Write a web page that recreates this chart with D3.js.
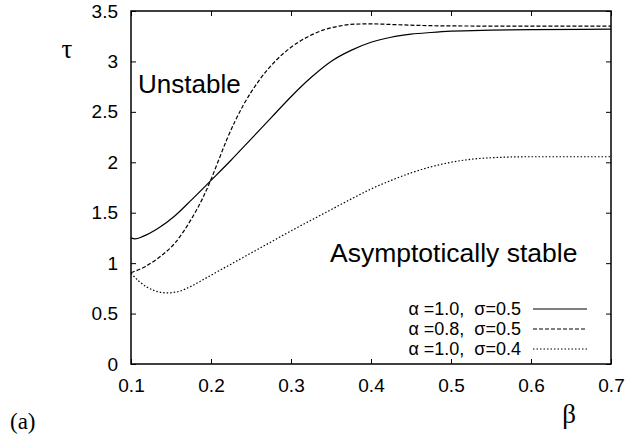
<!DOCTYPE html>
<html>
<head>
<meta charset="utf-8">
<script src="https://cdn.jsdelivr.net/npm/d3@7"></script>
<style>
  body { margin: 0; background: #fff; }
  svg { display: block; }
  .tick text { font-family: "Liberation Sans", Arial, sans-serif; font-size: 19px; fill: #000; }
</style>
</head>
<body>
<div id="chart"></div>
<script>
// values: beta (x) and tau (y)
const betaA = [0.100, 0.105, 0.115, 0.134, 0.155, 0.176, 0.200, 0.225, 0.250, 0.275, 0.300, 0.325, 0.350, 0.375, 0.400, 0.425, 0.450, 0.475, 0.500, 0.550, 0.600, 0.700];
const tauA  = [1.250, 1.240, 1.265, 1.345, 1.470, 1.630, 1.820, 2.020, 2.230, 2.440, 2.650, 2.840, 3.000, 3.110, 3.190, 3.240, 3.270, 3.287, 3.300, 3.310, 3.315, 3.320];

const betaB = [0.100, 0.1175, 0.134, 0.155, 0.176, 0.190, 0.200, 0.210, 0.220, 0.240, 0.260, 0.280, 0.300, 0.320, 0.340, 0.360, 0.380, 0.400, 0.430, 0.460, 0.500, 0.600, 0.700];
const tauB  = [0.905, 0.965, 1.050, 1.200, 1.445, 1.650, 1.830, 2.030, 2.230, 2.560, 2.810, 3.000, 3.140, 3.240, 3.310, 3.350, 3.370, 3.372, 3.365, 3.357, 3.352, 3.350, 3.350];

const betaC = [0.100, 0.110, 0.120, 0.130, 0.145, 0.160, 0.175, 0.190, 0.200, 0.225, 0.250, 0.275, 0.300, 0.325, 0.350, 0.375, 0.400, 0.425, 0.450, 0.475, 0.500, 0.525, 0.550, 0.600, 0.700];
const tauC  = [0.900, 0.820, 0.762, 0.725, 0.705, 0.720, 0.770, 0.835, 0.880, 0.990, 1.100, 1.210, 1.320, 1.425, 1.530, 1.635, 1.735, 1.820, 1.895, 1.955, 2.000, 2.030, 2.045, 2.055, 2.055];

const seriesNames = ["α =1.0,  σ=0.5", "α =0.8,  σ=0.5", "α =1.0,  σ=0.4"];
const xTicks = [0.1, 0.2, 0.3, 0.4, 0.5, 0.6, 0.7];
const xTickLabels = ["0.1", "0.2", "0.3", "0.4", "0.5", "0.6", "0.7"];
const yTicks = [0, 0.5, 1, 1.5, 2, 2.5, 3, 3.5];
const yTickLabels = ["0", "0.5", "1", "1.5", "2", "2.5", "3", "3.5"];

const W = 629, H = 435;
const L = 131, R = 611, T = 11, B = 364;

const svg = d3.select("#chart").append("svg")
    .attr("width", W)
    .attr("height", H);

const x = d3.scaleLinear().domain([0.1, 0.7]).range([L, R]);
const y = d3.scaleLinear().domain([0, 3.5]).range([B, T]);

// axes, ticks pointing inwards on all four sides
svg.append("g")
    .attr("transform", `translate(0,${B})`)
    .call(d3.axisBottom(x).tickValues(xTicks).tickSizeInner(-5).tickSizeOuter(0)
        .tickPadding(15).tickFormat((d, i) => xTickLabels[i]));

svg.append("g")
    .attr("transform", `translate(${L},0)`)
    .call(d3.axisLeft(y).tickValues(yTicks).tickSizeInner(-5).tickSizeOuter(0)
        .tickPadding(13).tickFormat((d, i) => yTickLabels[i]));

svg.append("g")
    .attr("transform", `translate(0,${T})`)
    .call(d3.axisTop(x).tickValues(xTicks).tickSizeInner(-5).tickSizeOuter(0).tickFormat(""));

svg.append("g")
    .attr("transform", `translate(${R},0)`)
    .call(d3.axisRight(y).tickValues(yTicks).tickSizeInner(-5).tickSizeOuter(0).tickFormat(""));

svg.selectAll(".domain").remove();
svg.selectAll(".tick line").attr("stroke", "#000").attr("stroke-width", 1);

svg.append("rect")
    .attr("x", L).attr("y", T)
    .attr("width", R - L).attr("height", B - T)
    .attr("fill", "none")
    .attr("stroke", "#000")
    .attr("stroke-width", 1.5);

// curves
const line = d3.line()
    .x(d => x(d[0]))
    .y(d => y(d[1]))
    .curve(d3.curveMonotoneX);

const series = [
    { pts: d3.zip(betaA, tauA), dash: null },
    { pts: d3.zip(betaB, tauB), dash: "4,2" },
    { pts: d3.zip(betaC, tauC), dash: "1.5,2" }
];

svg.selectAll(".curve")
    .data(series)
    .enter()
    .append("path")
    .attr("class", "curve")
    .attr("d", d => line(d.pts))
    .attr("fill", "none")
    .attr("stroke", "#000")
    .attr("stroke-width", 1.2)
    .attr("stroke-dasharray", d => d.dash);

// legend
const legend = svg.selectAll(".legend")
    .data(series)
    .enter()
    .append("g")
    .attr("class", "legend")
    .attr("transform", (d, i) => `translate(0,${309 + i * 20})`);

legend.append("line")
    .attr("x1", 533).attr("x2", 587)
    .attr("y1", 0).attr("y2", 0)
    .attr("stroke", "#000")
    .attr("stroke-width", 1.2)
    .attr("stroke-dasharray", d => d.dash);

legend.append("text")
    .attr("x", 521)
    .attr("y", 6)
    .attr("text-anchor", "end")
    .style("white-space", "pre")
    .attr("font-family", "Liberation Sans, Arial, sans-serif")
    .attr("font-size", 18)
    .text((d, i) => seriesNames[i]);

// region labels
svg.append("text")
    .attr("x", 138)
    .attr("y", 93)
    .attr("font-family", "Liberation Sans, Arial, sans-serif")
    .attr("font-size", 26)
    .text("Unstable");

svg.append("text")
    .attr("x", 330)
    .attr("y", 262)
    .attr("font-family", "Liberation Sans, Arial, sans-serif")
    .attr("font-size", 26.5)
    .text("Asymptotically stable");

// axis symbols
svg.append("text")
    .attr("x", 67)
    .attr("y", 58)
    .attr("text-anchor", "middle")
    .attr("font-family", "Liberation Serif, serif")
    .attr("font-size", 27)
    .text("τ");

svg.append("text")
    .attr("x", 569)
    .attr("y", 423)
    .attr("text-anchor", "middle")
    .attr("font-family", "Liberation Serif, serif")
    .attr("font-size", 27)
    .text("β");

svg.append("text")
    .attr("x", 10)
    .attr("y", 429)
    .attr("font-family", "Liberation Serif, serif")
    .attr("font-size", 23)
    .text("(a)");
</script>
</body>
</html>
